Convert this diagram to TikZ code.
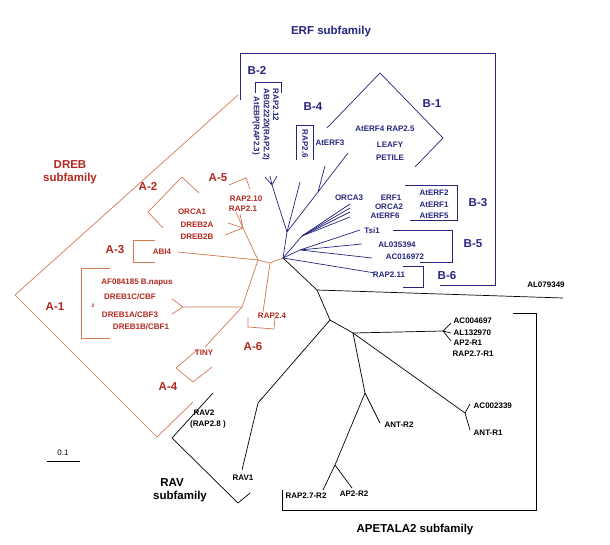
\documentclass[tikz,border=0pt]{standalone}
\usepackage{fontspec}
\setmainfont{Liberation Sans}
\definecolor{ErfBlue}{rgb}{0.15,0.15,0.5}
\definecolor{DrebLine}{rgb}{0.82,0.48,0.33}
\definecolor{DrebRed}{rgb}{0.7,0.16,0.12}
\tikzset{
  branch/.style={line width=0.7pt},
  tip/.style={font=\bfseries\fontsize{8}{8.5}\selectfont, inner sep=0.5pt},
  group/.style={font=\bfseries\fontsize{11.5}{12.5}\selectfont, inner sep=0.5pt},
}
\begin{document}
\begin{tikzpicture}[x=1pt,y=-1pt]
    \useasboundingbox (0,0) rectangle (610,545);
    \fill[white] (0,0) rectangle (610,545);

    % ERF subfamily
    \begin{scope}[ErfBlue, every node/.append style={text=ErfBlue}]
        \node[group] (erf) at (331,32) {ERF subfamily};
        \draw[branch] (240,100) -- (240,53) -- (495,53) -- (495,285) -- (440,285);
        \coordinate (c) at (283,258);
        \coordinate (b2) at (287,232);
        \coordinate (b1) at (318,192);
        \coordinate (b3) at (302,236);
        \coordinate (b5) at (300,250);
        \draw[branch] (c) -- (b2) -- (272,185);
        \draw[branch] (272,185) -- (265,177) (272,185) -- (270,176) (272,185) -- (277,176);
        \draw[branch] (b2) -- (300,182);
        \draw[branch] (b2) -- (b1) -- (325,166) (b1) -- (348,153);
        \draw[branch] (c) -- (b3);
        \foreach \y in {204,208,212,217} \draw[branch] (b3) -- (350,\y);
        \draw[branch] (c) -- (b5) -- (360,230) (b5) -- (362,244) (b5) -- (372,258);
        \draw[branch] (c) -- (375,273);
        % B-2
        \node[group] (g b2) at (257,70) {B-2};
        \draw[branch] (255,93) -- (255,82) -- (281,82) -- (281,93);
        \node[tip, rotate=-90, anchor=west] (rap212) at (276,88) {RAP2.12};
        \node[tip, rotate=-90, anchor=west] (ab022) at (266,88) {AB022220(RAP2.2)};
        \node[tip, rotate=-90, anchor=west] (atebp) at (256,96) {AtEBP(RAP2.3)};
        % B-4
        \node[group] (g b4) at (313,107) {B-4};
        \draw[branch] (296,160) -- (296,125) -- (313,125) -- (313,160);
        \node[tip, rotate=-90] (rap26) at (305,144) {RAP2.6};
        % B-1
        \node[group] (g b1) at (432,104) {B-1};
        \draw[branch] (327,128) -- (380,73) -- (443,138) -- (415,167);
        \node[tip] (aterf4) at (385,129) {AtERF4 RAP2.5};
        \node[tip] (aterf3) at (330,143) {AtERF3};
        \node[tip] (leafy) at (390,145) {LEAFY};
        \node[tip] (petile) at (390,158) {PETILE};
        % B-3
        \node[group] (g b3) at (478,203) {B-3};
        \draw[branch] (405,185) -- (457,185) -- (457,220) -- (410,220);
        \node[tip] (orca3) at (349,198) {ORCA3};
        \node[tip] (erf1) at (391,198) {ERF1};
        \node[tip] (orca2) at (389,207) {ORCA2};
        \node[tip] (aterf6) at (385,216) {AtERF6};
        \node[tip] (aterf2) at (434,193) {AtERF2};
        \node[tip] (aterf1) at (434,205) {AtERF1};
        \node[tip] (aterf5) at (434,216) {AtERF5};
        % B-5
        \node[group] (g b5) at (473,244) {B-5};
        \draw[branch] (393,230) -- (452,230) -- (452,262) -- (420,262);
        \node[tip] (tsi1) at (372,231) {Tsi1};
        \node[tip] (al035) at (397,245) {AL035394};
        \node[tip] (ac016) at (405,257) {AC016972};
        % B-6
        \node[group] (g b6) at (447,276) {B-6};
        \node[tip] (rap211) at (389,275) {RAP2.11};
        \draw[branch] (403,266) -- (423,266) -- (423,287) -- (403,287);
    \end{scope}

    % DREB subfamily
    \begin{scope}[DrebLine, every node/.append style={text=DrebRed}]
        \node[group, align=center] (dreb) at (70,172) {DREB\\subfamily};
        \draw[branch] (238,95) -- (15,295) -- (157,437) -- (193,402);
        \coordinate (o) at (270,263);
        \coordinate (o1) at (258,260);
        \coordinate (o2) at (243,228);
        \coordinate (o3) at (242,307);
        \draw[branch] (c) -- (o) -- (o1);
        \draw[branch] (o1) -- (o2) -- (236,212) (o2) -- (225,235) (o2) -- (228,223) (o2) -- (240,214);
        \draw[branch] (o1) -- (178,252);
        \draw[branch] (o1) -- (o3) -- (205,347);
        \draw[branch] (o3) -- (183,307) -- (172,299) (183,307) -- (172,314);
        \draw[branch] (o) -- (263,312);
        % A-2
        \node[group] (g a2) at (148,186) {A-2};
        \draw[branch] (199,193) -- (182,177) -- (148,212) -- (163,228);
        \node[tip] (orca1) at (192,212) {ORCA1};
        \node[tip] (dreb2a) at (197,225) {DREB2A};
        \node[tip] (dreb2b) at (197,237) {DREB2B};
        % A-5
        \node[group] (g a5) at (218,178) {A-5};
        \draw[branch] (229,185) -- (246,178) -- (250,189);
        \node[tip] (rap210) at (246,199) {RAP2.10};
        \node[tip] (rap21) at (243,209) {RAP2.1};
        % A-3
        \node[group] (g a3) at (115,250) {A-3};
        \draw[branch] (155,240) -- (133,240) -- (133,262) -- (155,262);
        \node[tip] (abi4) at (162,252) {ABI4};
        % A-1
        \node[group] (g a1) at (55,307) {A-1};
        \draw[branch] (110,268) -- (81,268) -- (81,338) -- (110,338);
        \node[tip] (af084) at (137,283) {AF084185 B.napus};
        \node[tip] (dreb1c) at (130,297) {DREB1C/CBF};
        \node[tip, font=\bfseries\fontsize{5}{5}\selectfont] (two) at (93,306) {2};
        \node[tip] (dreb1a) at (130,315) {DREB1A/CBF3};
        \node[tip] (dreb1b) at (141,327) {DREB1B/CBF1};
        % A-4
        \node[group] (g a4) at (168,387) {A-4};
        \draw[branch] (197,350) -- (176,368) -- (193,382) -- (212,367);
        \node[tip] (tiny) at (204,353) {TINY};
        % A-6
        \node[group] (g a6) at (253,347) {A-6};
        \draw[branch] (248,317) -- (248,327) -- (274,329) -- (275,318);
        \node[tip] (rap24) at (272,316) {RAP2.4};
    \end{scope}

    % RAV and APETALA2 subfamilies
    \coordinate (t1) at (317,290);
    \coordinate (t2) at (330,320);
    \coordinate (rav) at (258,403);
    \coordinate (ap) at (353,333);
    \coordinate (ap1) at (443,331);
    \coordinate (ant) at (365,393);
    \coordinate (ap2) at (335,465);
    \coordinate (ant1) at (465,413);
    \draw[branch] (c) -- (t1) -- (t2);
    \draw[branch] (t1) -- (563,298);
    \node[tip] (al079) at (546,285) {AL079349};
    \draw[branch] (t2) -- (rav) -- (242,470) (rav) -- (262,398);
    \draw[branch] (t2) -- (ap) -- (ap1);
    \draw[branch] (ap1) -- (451,323) (ap1) -- (451,333) (ap1) -- (451,341);
    \draw[branch] (ap) -- (ant) -- (380,423) (ant) -- (ap2) -- (323,490) (ap2) -- (352,488);
    \draw[branch] (ap) -- (ant1) -- (470,404) (ant1) -- (470,430);
    \node[tip, anchor=west] (ac004) at (453,321) {AC004697};
    \node[tip, anchor=west] (al132) at (453,333) {AL132970};
    \node[tip, anchor=west] (ap2r1) at (453,343) {AP2-R1};
    \node[tip, anchor=west] (rap27r1) at (452,354) {RAP2.7-R1};
    \node[tip, anchor=west] (ac002) at (473,406) {AC002339};
    \node[tip, anchor=west] (antr1) at (473,433) {ANT-R1};
    \node[tip] (antr2) at (399,425) {ANT-R2};
    \node[tip] (rap27r2) at (306,496) {RAP2.7-R2};
    \node[tip] (ap2r2) at (354,494) {AP2-R2};
    \node[tip] (rav2) at (204,413) {RAV2};
    \node[tip] (rap28) at (208,424) {(RAP2.8 )};
    \node[tip] (rav1) at (243,478) {RAV1};
    \draw[branch] (213,393) -- (172,438) -- (238,503) -- (250,493);
    \node[group, align=center] (g rav) at (172,490) {RAV\\\hspace*{16pt}subfamily};
    \draw[branch] (513,313) -- (536,313) -- (536,510) -- (282,510) -- (282,490);
    \node[group] (g ap2) at (415,530) {APETALA2 subfamily};
    % scale bar
    \draw[branch] (47,461) -- (80,461);
    \node[tip, font=\fontsize{8}{8.5}\selectfont] (scale) at (63,453) {0.1};
\end{tikzpicture}
\end{document}
